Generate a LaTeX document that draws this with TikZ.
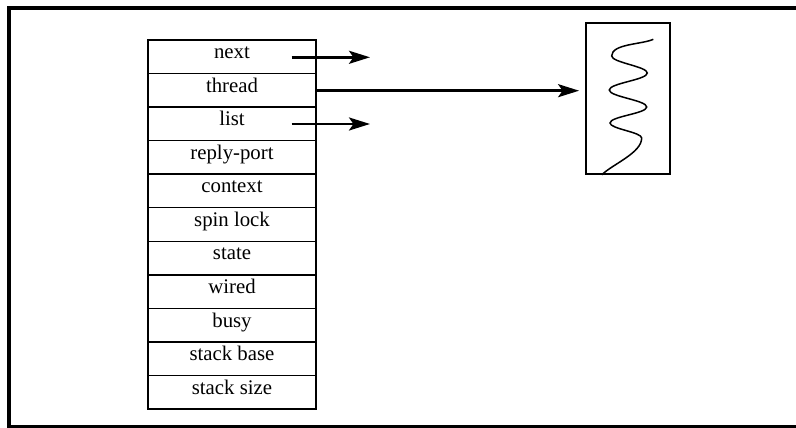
\documentclass[tikz,border=0pt]{standalone}
\usepackage{fontspec}
\setmainfont{Liberation Serif}
\usetikzlibrary{arrows.meta,calc}

\begin{document}
\begin{tikzpicture}[x=1pt,y=1pt,
  frameline/.style={line width=3.2pt},
  rowbox/.style={draw, line width=1.4pt, minimum width=168pt, minimum height=33.55pt,
    inner sep=0pt, text height=12pt, text depth=8.2pt,
    font=\fontsize{20.8}{24}\selectfont},
  ptr/.style={line width=2.6pt, -{Stealth[length=21pt,width=13pt,inset=4.5pt]}},
  threadbox/.style={draw, line width=1.8pt, minimum width=84pt, minimum height=151pt, inner sep=0pt},
  wave/.style={line width=1.5pt, looseness=0.42}]

\useasboundingbox (0,0) rectangle (796,428);

% open frame: left, top and bottom edges
\draw[frameline] (805,420) -- (9,420) -- (9,1.5) -- (805,1.5);

% the structure, one field per row
\def\rowh{33.55}
\foreach \lbl [count=\i] in {next,thread,list,reply-port,context,spin lock,state,wired,busy,stack base,stack size}{
  \node[rowbox] (r\i) at (232,{388-(\i-0.5)*\rowh}) {\lbl};
}

% the thread, drawn as a box with a wavy line
\node[threadbox] (th) at (628,329.5) {};
\draw[wave] ($(th.south)+(-26.3,0)$) coordinate (w0)
  to[out=45,in=-90, looseness=0.7] (641.7,290)
  to[out=90,in=-90] (610,305)
  to[out=90,in=-90] (646.7,321)
  to[out=90,in=-90] (609.3,338)
  to[out=90,in=-90] (647.3,355)
  to[out=90,in=-90] (611.7,372)
  to[out=90,in=-155, looseness=0.7] (653.3,388.7);

% pointers
\coordinate (nextfrom) at (291.7,370.7);
\coordinate (nextto) at (370,370.7);
\coordinate (listfrom) at (291.7,304);
\coordinate (listto) at (370,304);
\draw[ptr] (nextfrom) -- (nextto);
\draw[ptr, shorten >=6pt] (r2.east |- 0,337.3) -- (th.west |- 0,337.3);
\draw[ptr] (listfrom) -- (listto);
\end{tikzpicture}
\end{document}
